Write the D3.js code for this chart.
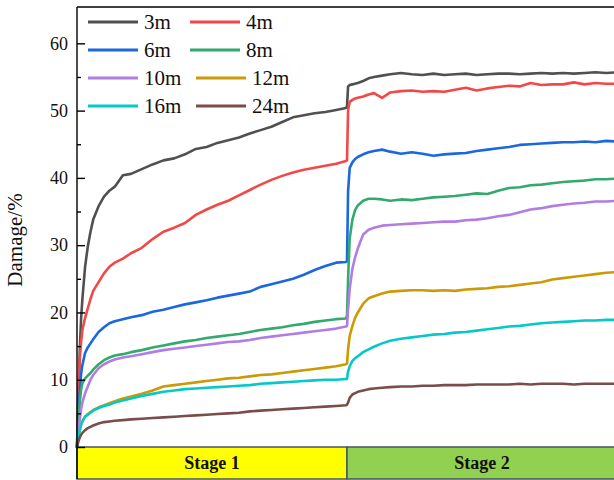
<!DOCTYPE html>
<html>
<head>
<meta charset="utf-8">
<script src="https://cdn.jsdelivr.net/npm/d3@7"></script>
<style>
  html, body { margin: 0; padding: 0; background: #fff; overflow: hidden; }
  svg { display: block; }
  text { font-family: "Times New Roman", "Liberation Serif", serif; }
</style>
</head>
<body>
<svg id="chart" width="614" height="480"></svg>
<script>
// Loading step (time) — stage 1 spans 0–100, stage 2 spans 100–200
const steps = [
  0, 0.5, 1, 1.5, 2, 3, 4, 5, 6, 8, 10, 12, 14, 17, 20, 24, 28, 32, 36, 40,
  44, 48, 52, 56, 60, 64, 68, 72, 76, 80, 84, 88, 92, 96, 99.6,
  100, 100.4, 101, 102, 103, 104, 106, 108, 110, 113, 116, 120, 124, 128, 132,
  136, 140, 144, 148, 152, 156, 160, 164, 168, 172, 176, 180, 184, 188, 192, 196, 200
];

const seriesNames = ["3m", "4m", "6m", "8m", "10m", "12m", "16m", "24m"];

// Damage (%) at each step
const damage3m = [
  0, 8, 14, 19, 22, 26.8, 29.8, 32, 33.8, 35.8, 37.2, 38.1, 38.7, 40.4, 40.6, 41.3, 42.0, 42.6, 42.9, 43.5,
  44.3, 44.6, 45.2, 45.6, 46.0, 46.6, 47.1, 47.6, 48.3, 49.0, 49.3, 49.6, 49.8, 50.1, 50.4,
  50.6, 53.6, 53.8, 53.9, 54.0, 54.1, 54.4, 54.8, 55.0, 55.2, 55.4, 55.6, 55.4, 55.3, 55.5,
  55.3, 55.4, 55.5, 55.3, 55.4, 55.5, 55.5, 55.4, 55.5, 55.6, 55.5, 55.6, 55.5, 55.6, 55.7, 55.6, 55.7
];
const damage4m = [
  0, 6, 13, 15.5, 17.4, 19.2, 20.6, 22.0, 23.2, 24.5, 25.8, 26.8, 27.4, 28.0, 28.8, 29.6, 30.9, 32.0, 32.6, 33.3,
  34.5, 35.3, 36.0, 36.6, 37.4, 38.2, 39.0, 39.7, 40.3, 40.8, 41.2, 41.5, 41.8, 42.1, 42.5,
  42.6, 50.0, 51.3, 51.6, 51.8, 51.9, 52.1, 52.4, 52.6, 51.9, 52.7, 52.9, 53.0, 52.8, 52.9,
  52.8, 53.1, 53.4, 53.0, 53.3, 53.5, 53.7, 53.6, 54.1, 53.8, 53.9, 53.9, 54.2, 53.9, 54.1, 54.0, 54.0
];
const damage6m = [
  0, 4, 8, 10.8, 12.2, 14.0, 14.8, 15.4, 16.0, 17.1, 17.8, 18.4, 18.7, 19.0, 19.3, 19.6, 20.1, 20.4, 20.8, 21.2,
  21.5, 21.8, 22.2, 22.5, 22.8, 23.1, 23.8, 24.2, 24.6, 25.0, 25.6, 26.3, 26.9, 27.4, 27.5,
  27.6, 38.0, 41.5, 42.3, 42.8, 43.1, 43.5, 43.8, 44.0, 44.2, 43.9, 43.6, 43.8, 43.6, 43.3,
  43.5, 43.6, 43.7, 44.0, 44.2, 44.4, 44.6, 44.9, 45.0, 45.1, 45.2, 45.3, 45.3, 45.4, 45.3, 45.5, 45.4
];
const damage8m = [
  0, 3.5, 6.5, 8.5, 9.5, 10.2, 10.6, 11.0, 11.5, 12.3, 12.9, 13.3, 13.6, 13.8, 14.1, 14.4, 14.8, 15.1, 15.4, 15.7,
  15.9, 16.2, 16.4, 16.6, 16.8, 17.1, 17.4, 17.6, 17.8, 18.1, 18.3, 18.6, 18.8, 19.0, 19.1,
  19.5, 25, 31, 33.8, 35.2, 35.9, 36.6, 36.9, 36.9, 36.8, 36.6, 36.8, 36.7, 36.9, 37.1,
  37.2, 37.3, 37.5, 37.7, 37.6, 38.1, 38.5, 38.6, 38.9, 39.0, 39.2, 39.4, 39.5, 39.6, 39.8, 39.8, 39.9
];
const damage10m = [
  0, 2, 4, 5.6, 6.6, 8.0, 9.0, 10.0, 10.7, 11.7, 12.3, 12.7, 13.0, 13.3, 13.5, 13.8, 14.1, 14.4, 14.6, 14.8,
  15.0, 15.2, 15.4, 15.6, 15.7, 15.9, 16.2, 16.4, 16.6, 16.8, 17.0, 17.2, 17.4, 17.6, 17.9,
  18.0, 20.5, 23.5, 26.5, 28.2, 29.5, 31.6, 32.3, 32.6, 32.9, 33.0, 33.1, 33.2, 33.3, 33.4,
  33.5, 33.5, 33.7, 33.8, 34.0, 34.3, 34.5, 34.9, 35.3, 35.5, 35.8, 36.0, 36.2, 36.3, 36.5, 36.5, 36.6
];
const damage12m = [
  0, 1.2, 2.4, 3.3, 3.8, 4.5, 4.9, 5.2, 5.5, 5.9, 6.2, 6.5, 6.8, 7.2, 7.5, 7.9, 8.4, 9.0, 9.2, 9.4,
  9.6, 9.8, 10.0, 10.2, 10.3, 10.5, 10.7, 10.8, 11.0, 11.2, 11.4, 11.6, 11.8, 12.0, 12.3,
  12.4, 14.5, 16.5, 18.0, 19.2, 20.0, 21.3, 22.1, 22.4, 22.8, 23.1, 23.2, 23.3, 23.3, 23.2,
  23.3, 23.2, 23.4, 23.5, 23.6, 23.8, 23.9, 24.1, 24.3, 24.5, 24.9, 25.1, 25.3, 25.5, 25.7, 25.9, 26.0
];
const damage16m = [
  0, 1.3, 2.5, 3.3, 3.8, 4.5, 4.8, 5.1, 5.4, 5.8, 6.1, 6.3, 6.6, 6.9, 7.2, 7.6, 7.9, 8.2, 8.4, 8.6,
  8.7, 8.8, 8.9, 9.0, 9.1, 9.2, 9.4, 9.5, 9.6, 9.7, 9.8, 9.9, 10.0, 10.0, 10.1,
  10.1, 11.2, 12.0, 12.8, 13.2, 13.5, 14.1, 14.5, 14.9, 15.4, 15.8, 16.1, 16.3, 16.5, 16.7,
  16.8, 17.0, 17.1, 17.3, 17.5, 17.7, 17.9, 18.0, 18.2, 18.4, 18.5, 18.6, 18.7, 18.8, 18.8, 18.9, 18.9
];
const damage24m = [
  0, 0.8, 1.4, 1.8, 2.1, 2.5, 2.8, 3.0, 3.2, 3.5, 3.7, 3.8, 3.9, 4.0, 4.1, 4.2, 4.3, 4.4, 4.5, 4.6,
  4.7, 4.8, 4.9, 5.0, 5.1, 5.3, 5.4, 5.5, 5.6, 5.7, 5.8, 5.9, 6.0, 6.1, 6.2,
  6.3, 6.6, 7.3, 7.8, 8.0, 8.2, 8.4, 8.6, 8.7, 8.8, 8.9, 9.0, 9.0, 9.1, 9.1,
  9.2, 9.2, 9.2, 9.3, 9.3, 9.3, 9.3, 9.4, 9.3, 9.4, 9.4, 9.4, 9.3, 9.4, 9.4, 9.4, 9.4
];

const yTicks = [0, 10, 20, 30, 40, 50, 60];
const yMinorTicks = [5, 15, 25, 35, 45, 55];

const stageNames = ["Stage 1", "Stage 2"];
const stageBounds = [[0, 100], [100, 200]];

const seriesValues = [damage3m, damage4m, damage6m, damage8m, damage10m, damage12m, damage16m, damage24m];
const colors = ["#505050", "#f24848", "#1b68de", "#34a96c", "#b27de2", "#cc9a06", "#06c8c8", "#7a4d4a"];

const svg = d3.select("#chart");
const margin = { left: 77, top: 7, bottom: 447, right: 617 };

const x = d3.scaleLinear().domain([0, 200]).range([margin.left, margin.right]);
const y = d3.scaleLinear().domain([0, 65.4]).range([margin.bottom, margin.top]);

// Curves
const line = d3.line()
  .x((d, i) => x(steps[i]))
  .y(d => y(d));

const curves = svg.append("g");
seriesValues.forEach((vals, k) => {
  curves.append("path")
    .datum(vals)
    .attr("d", line)
    .attr("fill", "none")
    .attr("stroke", colors[k])
    .attr("stroke-width", 2.6)
    .attr("stroke-linejoin", "round")
    .attr("stroke-linecap", "round");
});

// Stage band under the plot
const band = svg.append("g");
const stageFill = ["#ffff00", "#92d050"];
stageBounds.forEach((b, i) => {
  band.append("rect")
    .attr("x", x(b[0]))
    .attr("y", margin.bottom)
    .attr("width", x(b[1]) - x(b[0]))
    .attr("height", 32)
    .attr("fill", stageFill[i])
    .attr("stroke", "#44546a")
    .attr("stroke-width", 1.5);
  band.append("text")
    .attr("x", (x(b[0]) + x(b[1])) / 2)
    .attr("y", margin.bottom + 22)
    .attr("text-anchor", "middle")
    .attr("font-size", 18)
    .attr("font-weight", "bold")
    .attr("fill", "#111")
    .text(stageNames[i]);
});

// Frame: top and left lines
svg.append("line")
  .attr("x1", margin.left).attr("x2", margin.right)
  .attr("y1", margin.top).attr("y2", margin.top)
  .attr("stroke", "#000").attr("stroke-width", 1.4);

// Y axis with inward ticks
const yAxis = d3.axisLeft(y)
  .tickValues(yTicks)
  .tickSizeInner(-8)
  .tickSizeOuter(0)
  .tickPadding(9)
  .tickFormat(d3.format("d"));

const yAxisG = svg.append("g")
  .attr("transform", `translate(${margin.left},0)`)
  .call(yAxis);
yAxisG.select(".domain").remove();
yAxisG.selectAll(".tick line").attr("stroke", "#000").attr("stroke-width", 1.4);
yAxisG.selectAll(".tick text")
  .attr("font-size", 18)
  .attr("fill", "#111")
  .style("font-family", "'Times New Roman', 'Liberation Serif', serif");

const yMinor = d3.axisLeft(y)
  .tickValues(yMinorTicks)
  .tickSizeInner(-4)
  .tickSizeOuter(0)
  .tickFormat("");
const yMinorG = svg.append("g")
  .attr("transform", `translate(${margin.left},0)`)
  .call(yMinor);
yMinorG.select(".domain").remove();
yMinorG.selectAll(".tick line").attr("stroke", "#000").attr("stroke-width", 1.4);

svg.append("line")
  .attr("x1", margin.left).attr("x2", margin.left)
  .attr("y1", margin.top).attr("y2", 479)
  .attr("stroke", "#000").attr("stroke-width", 1.4);

// Y label
svg.append("text")
  .attr("transform", "translate(22,240) rotate(-90)")
  .attr("text-anchor", "middle")
  .attr("font-size", 21)
  .attr("fill", "#111")
  .text("Damage/%");

// Legend, two columns
const legend = svg.append("g");
const rowY = [22, 50, 78, 106];
const col2X = [190, 190, 196, 196];
seriesNames.forEach((name, i) => {
  const row = Math.floor(i / 2);
  const col = i % 2;
  const lx = col === 0 ? 88 : col2X[row];
  const cy = rowY[row];
  legend.append("line")
    .attr("x1", lx).attr("x2", lx + 50)
    .attr("y1", cy).attr("y2", cy)
    .attr("stroke", colors[i])
    .attr("stroke-width", 3);
  legend.append("text")
    .attr("x", lx + 56)
    .attr("y", cy + 7)
    .attr("font-size", 21)
    .attr("fill", "#111")
    .text(name);
});
</script>
</body>
</html>
